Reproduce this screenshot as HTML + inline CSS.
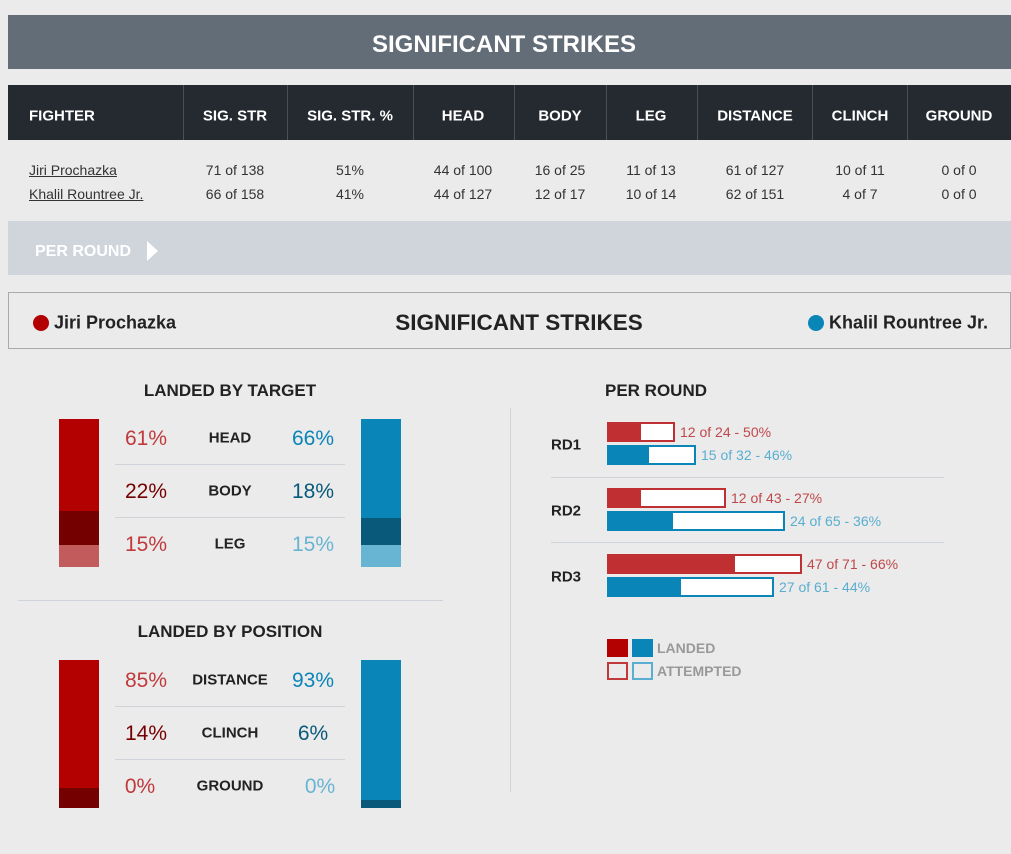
<!DOCTYPE html>
<html><head><style>
body{margin:0;width:1011px;height:854px;background:#ebebeb;font-family:"Liberation Sans",sans-serif;position:relative;overflow:hidden}
div,span{position:absolute;box-sizing:border-box}
.t{white-space:nowrap;transform:translate(-50%,-50%)}
.l{white-space:nowrap;transform:translateY(-50%)}
.b{font-weight:bold}
.h{color:#fff;font-weight:bold;font-size:15px}
.r{font-size:14px;color:#333}
</style></head><body>
<div style="left:8px;top:15px;width:1003px;height:54px;background:#636d77"></div>
<div class="t" style="left:504px;top:45px;color:#fff;font-size:24px;font-weight:bold">SIGNIFICANT STRIKES</div>
<div style="left:8px;top:85px;width:1003px;height:55px;background:#252a31"></div>
<div style="left:183px;top:85px;width:1px;height:55px;background:#4a5058"></div>
<div style="left:287px;top:85px;width:1px;height:55px;background:#4a5058"></div>
<div style="left:413px;top:85px;width:1px;height:55px;background:#4a5058"></div>
<div style="left:514px;top:85px;width:1px;height:55px;background:#4a5058"></div>
<div style="left:606px;top:85px;width:1px;height:55px;background:#4a5058"></div>
<div style="left:697px;top:85px;width:1px;height:55px;background:#4a5058"></div>
<div style="left:812px;top:85px;width:1px;height:55px;background:#4a5058"></div>
<div style="left:907px;top:85px;width:1px;height:55px;background:#4a5058"></div>
<div class="l h" style="left:29px;top:116px">FIGHTER</div>
<div class="t h" style="left:235px;top:116px">SIG. STR</div>
<div class="t h" style="left:350px;top:116px">SIG. STR. %</div>
<div class="t h" style="left:463px;top:116px">HEAD</div>
<div class="t h" style="left:560px;top:116px">BODY</div>
<div class="t h" style="left:651px;top:116px">LEG</div>
<div class="t h" style="left:755px;top:116px">DISTANCE</div>
<div class="t h" style="left:860px;top:116px">CLINCH</div>
<div class="t h" style="left:959px;top:116px">GROUND</div>
<div class="l r" style="left:29px;top:170px;text-decoration:underline">Jiri Prochazka</div>
<div class="l r" style="left:29px;top:194px;text-decoration:underline">Khalil Rountree Jr.</div>
<div class="t r" style="left:235px;top:170px">71 of 138</div><div class="t r" style="left:235px;top:194px">66 of 158</div>
<div class="t r" style="left:350px;top:170px">51%</div><div class="t r" style="left:350px;top:194px">41%</div>
<div class="t r" style="left:463px;top:170px">44 of 100</div><div class="t r" style="left:463px;top:194px">44 of 127</div>
<div class="t r" style="left:560px;top:170px">16 of 25</div><div class="t r" style="left:560px;top:194px">12 of 17</div>
<div class="t r" style="left:651px;top:170px">11 of 13</div><div class="t r" style="left:651px;top:194px">10 of 14</div>
<div class="t r" style="left:755px;top:170px">61 of 127</div><div class="t r" style="left:755px;top:194px">62 of 151</div>
<div class="t r" style="left:860px;top:170px">10 of 11</div><div class="t r" style="left:860px;top:194px">4 of 7</div>
<div class="t r" style="left:959px;top:170px">0 of 0</div><div class="t r" style="left:959px;top:194px">0 of 0</div>
<div style="left:8px;top:221px;width:1003px;height:54px;background:#d0d5dc"></div>
<div class="l" style="left:35px;top:252px;color:#fff;font-weight:bold;font-size:16px">PER ROUND</div>
<div style="left:147px;top:241px;width:0;height:0;border-top:10px solid transparent;border-bottom:10px solid transparent;border-left:11px solid #fff"></div>
<div style="left:8px;top:292px;width:1003px;height:57px;border:1px solid #aaa"></div>
<div style="left:33px;top:315px;width:16px;height:16px;border-radius:50%;background:#b30000"></div>
<div class="l b" style="left:54px;top:323px;font-size:18px;color:#222">Jiri Prochazka</div>
<div class="t b" style="left:519px;top:323px;font-size:22.5px;color:#222">SIGNIFICANT STRIKES</div>
<div style="left:808px;top:315px;width:16px;height:16px;border-radius:50%;background:#0a85b8"></div>
<div class="l b" style="left:829px;top:323px;font-size:18px;color:#222">Khalil Rountree Jr.</div>

<div class="t b" style="left:230px;top:391px;font-size:17px;color:#222">LANDED BY TARGET</div>
<div style="left:59px;top:419px;width:40px;height:92px;background:#b30000"></div>
<div style="left:59px;top:511px;width:40px;height:34px;background:#750000"></div>
<div style="left:59px;top:545px;width:40px;height:22px;background:#c25c5c"></div>
<div style="left:361px;top:419px;width:40px;height:99px;background:#0a85b8"></div>
<div style="left:361px;top:518px;width:40px;height:27px;background:#09597a"></div>
<div style="left:361px;top:545px;width:40px;height:22px;background:#68b4d3"></div>
<div style="left:115px;top:464px;width:230px;height:1px;background:#cfd4db"></div>
<div style="left:115px;top:517px;width:230px;height:1px;background:#cfd4db"></div>
<div class="t" style="left:146px;top:439px;font-size:21px;color:#c0393b">61%</div>
<div class="t b" style="left:230px;top:438px;font-size:15px;color:#222">HEAD</div>
<div class="t" style="left:313px;top:439px;font-size:21px;color:#0a85b8">66%</div>
<div class="t" style="left:146px;top:492px;font-size:21px;color:#750000">22%</div>
<div class="t b" style="left:230px;top:491px;font-size:15px;color:#222">BODY</div>
<div class="t" style="left:313px;top:492px;font-size:21px;color:#09597a">18%</div>
<div class="t" style="left:146px;top:545px;font-size:21px;color:#c0393b">15%</div>
<div class="t b" style="left:230px;top:544px;font-size:15px;color:#222">LEG</div>
<div class="t" style="left:313px;top:545px;font-size:21px;color:#68b4d3">15%</div>

<div style="left:18px;top:600px;width:425px;height:1px;background:#cfd4db"></div>
<div class="t b" style="left:230px;top:632px;font-size:17px;color:#222">LANDED BY POSITION</div>
<div style="left:59px;top:660px;width:40px;height:128px;background:#b30000"></div>
<div style="left:59px;top:788px;width:40px;height:20px;background:#750000"></div>
<div style="left:361px;top:660px;width:40px;height:140px;background:#0a85b8"></div>
<div style="left:361px;top:800px;width:40px;height:8px;background:#09597a"></div>
<div style="left:115px;top:706px;width:230px;height:1px;background:#cfd4db"></div>
<div style="left:115px;top:759px;width:230px;height:1px;background:#cfd4db"></div>
<div class="t" style="left:146px;top:681px;font-size:21px;color:#c0393b">85%</div>
<div class="t b" style="left:230px;top:680px;font-size:15px;color:#222">DISTANCE</div>
<div class="t" style="left:313px;top:681px;font-size:21px;color:#0a85b8">93%</div>
<div class="t" style="left:146px;top:734px;font-size:21px;color:#750000">14%</div>
<div class="t b" style="left:230px;top:733px;font-size:15px;color:#222">CLINCH</div>
<div class="t" style="left:313px;top:734px;font-size:21px;color:#09597a">6%</div>
<div class="t" style="left:140px;top:787px;font-size:21px;color:#c0393b">0%</div>
<div class="t b" style="left:230px;top:786px;font-size:15px;color:#222">GROUND</div>
<div class="t" style="left:320px;top:787px;font-size:21px;color:#68b4d3">0%</div>

<div style="left:510px;top:408px;width:1px;height:384px;background:#cfd4db"></div>
<div class="l b" style="left:605px;top:391px;font-size:17px;color:#222">PER ROUND</div>
<div class="l b" style="left:551px;top:445px;font-size:15px;color:#222">RD1</div>
<div class="l b" style="left:551px;top:511px;font-size:15px;color:#222">RD2</div>
<div class="l b" style="left:551px;top:577px;font-size:15px;color:#222">RD3</div>
<div style="left:551px;top:477px;width:393px;height:1px;background:#cfd4db"></div>
<div style="left:551px;top:542px;width:393px;height:1px;background:#cfd4db"></div>

<div style="left:607px;top:422px;width:68px;height:20px;background:#fff;border:2px solid #c03033"></div><div style="left:607px;top:422px;width:34px;height:20px;background:#c03033"></div>
<div class="l" style="left:680px;top:432px;font-size:14px;color:#c0474a">12 of 24 - 50%</div>
<div style="left:607px;top:445px;width:89px;height:20px;background:#fff;border:2px solid #0a85b8"></div><div style="left:607px;top:445px;width:42px;height:20px;background:#0a85b8"></div>
<div class="l" style="left:701px;top:455px;font-size:14px;color:#5aaed0">15 of 32 - 46%</div>

<div style="left:607px;top:488px;width:119px;height:20px;background:#fff;border:2px solid #c03033"></div><div style="left:607px;top:488px;width:34px;height:20px;background:#c03033"></div>
<div class="l" style="left:731px;top:498px;font-size:14px;color:#c0474a">12 of 43 - 27%</div>
<div style="left:607px;top:511px;width:178px;height:20px;background:#fff;border:2px solid #0a85b8"></div><div style="left:607px;top:511px;width:66px;height:20px;background:#0a85b8"></div>
<div class="l" style="left:790px;top:521px;font-size:14px;color:#5aaed0">24 of 65 - 36%</div>

<div style="left:607px;top:554px;width:195px;height:20px;background:#fff;border:2px solid #c03033"></div><div style="left:607px;top:554px;width:128px;height:20px;background:#c03033"></div>
<div class="l" style="left:807px;top:564px;font-size:14px;color:#c0474a">47 of 71 - 66%</div>
<div style="left:607px;top:577px;width:167px;height:20px;background:#fff;border:2px solid #0a85b8"></div><div style="left:607px;top:577px;width:74px;height:20px;background:#0a85b8"></div>
<div class="l" style="left:779px;top:587px;font-size:14px;color:#5aaed0">27 of 61 - 44%</div>

<div style="left:607px;top:639px;width:21px;height:18px;background:#b30000"></div>
<div style="left:632px;top:639px;width:21px;height:18px;background:#0a85b8"></div>
<div class="l b" style="left:657px;top:648px;font-size:14px;color:#999">LANDED</div>
<div style="left:607px;top:662px;width:21px;height:18px;border:2px solid #c0393b"></div>
<div style="left:632px;top:662px;width:21px;height:18px;border:2px solid #5aaed0"></div>
<div class="l b" style="left:657px;top:671px;font-size:14px;color:#999">ATTEMPTED</div>
</body></html>
